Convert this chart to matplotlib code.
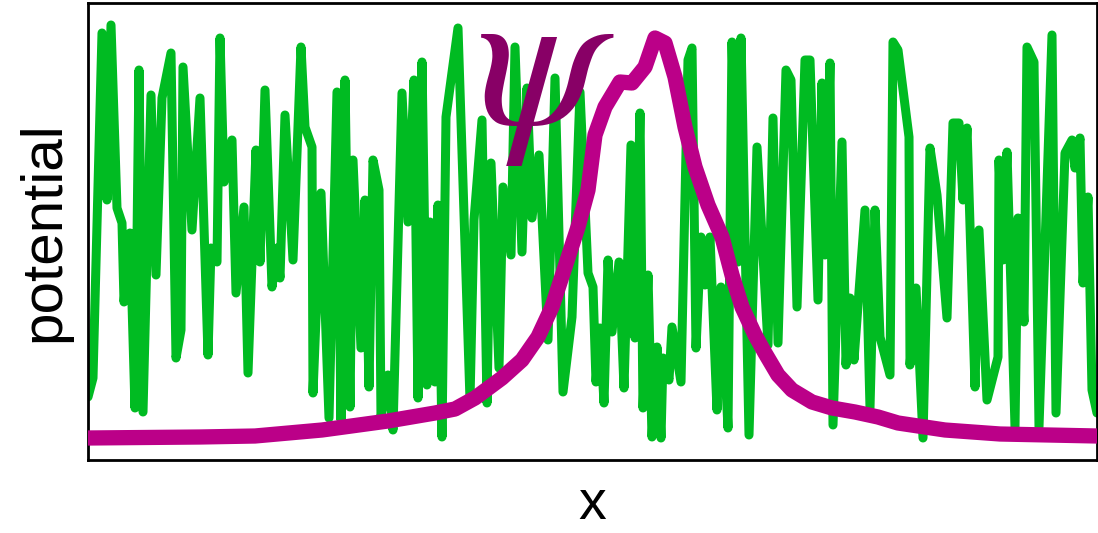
import numpy as np
import matplotlib.pyplot as plt

# random potential: position along x and height
pot_x = [0, 5, 14, 19, 23, 29, 34, 36, 42, 47, 51, 55, 63, 68, 74, 83, 88, 93, 95, 104,
         112, 120, 123, 129, 132, 136, 144, 148, 156, 160, 168, 172, 177, 184, 189, 192, 197, 205, 213, 217,
         224, 225, 233, 241, 249, 253, 257, 262, 265, 273, 277, 281, 285, 291, 293, 300, 305, 314, 320, 326,
         330, 334, 339, 342, 347, 350, 354, 358, 370, 382, 386, 394, 399, 403, 411, 415, 423, 427, 434, 439,
         444, 451, 460, 467, 475, 484, 492, 500, 505, 508, 512, 516, 520, 524, 531, 536, 543, 547, 552, 555,
         560, 564, 569, 573, 575, 581, 584, 593, 600, 604, 608, 613, 617, 622, 629, 633, 640, 644, 650, 653,
         661, 669, 680, 685, 690, 698, 703, 709, 717, 722, 730, 734, 737, 742, 745, 754, 758, 762, 766, 777,
         782, 787, 792, 802, 805, 810, 821, 822, 828, 835, 842, 849, 859, 865, 871, 875, 879, 887, 891, 899,
         910, 911, 915, 919, 927, 930, 936, 939, 946, 951, 964, 968, 977, 984, 987, 992, 995, 1000, 1004, 1009]
pot_v = [63, 82, 427, 260, 435, 252, 237, 158, 227, 52, 390, 48, 365, 185, 362, 407, 102, 130, 393, 230,
         362, 105, 212, 198, 422, 278, 320, 167, 253, 87, 310, 198, 370, 173, 212, 182, 345, 200, 413, 333,
         313, 67, 267, 42, 368, 40, 380, 53, 300, 112, 260, 73, 300, 270, 43, 85, 30, 367, 238, 380,
         62, 398, 75, 238, 78, 255, 23, 343, 432, 60, 240, 340, 57, 297, 92, 273, 205, 413, 208, 372,
         242, 305, 120, 382, 68, 143, 368, 187, 173, 78, 132, 57, 200, 128, 198, 72, 315, 122, 347, 52,
         185, 23, 113, 22, 102, 80, 133, 78, 400, 412, 112, 223, 175, 223, 50, 173, 32, 418, 198, 422,
         25, 313, 115, 342, 117, 390, 380, 153, 400, 400, 160, 377, 205, 397, 35, 318, 95, 162, 100, 250,
         52, 250, 123, 85, 418, 410, 323, 95, 172, 22, 312, 265, 142, 337, 337, 260, 332, 73, 230, 60,
         103, 300, 200, 308, 33, 242, 138, 413, 398, 33, 425, 47, 307, 320, 292, 322, 177, 263, 70, 47]

# localized wavefunction
psi_x = [0, 112, 167, 234, 300, 347, 367, 387, 414, 434, 450, 464, 477, 490, 500, 507, 517, 532, 544,
         557, 567, 577, 587, 597, 607, 620, 634, 644, 654, 667, 677, 690, 704, 724, 744, 767, 790, 810,
         857, 912, 1009]
psi_v = [22, 23, 24, 30, 39, 47, 51, 62, 82, 100, 123, 153, 193, 233, 270, 325, 353, 378, 377,
         393, 422, 417, 383, 333, 293, 255, 223, 185, 153, 125, 107, 85, 70, 58, 52, 48, 43, 37,
         30, 26, 24]

fig = plt.figure(figsize=(10.98, 5.33), dpi=100)
ax = fig.add_axes([88/1098, 73/533, 1009/1098, 457/533])

ax.plot(pot_x, pot_v, color='#00BB22', lw=6.5, solid_joinstyle='round', solid_capstyle='round', zorder=2)
ax.plot(psi_x, psi_v, color='#BB0088', lw=11, solid_joinstyle='round', solid_capstyle='round', zorder=3)
ax.text(458, 390, r'$\psi$', color='#880066', fontsize=146, ha='center', va='center',
        math_fontfamily='stix', zorder=4)

ax.set_xlim(0, 1009)
ax.set_ylim(0, 457)
ax.set_xticks([])
ax.set_yticks([])
for s in ax.spines.values():
    s.set_linewidth(2)
ax.set_xlabel('x', fontsize=40, family='Liberation Sans', labelpad=14)
ax.set_ylabel('potential', fontsize=42, family='Liberation Sans', labelpad=12)

plt.savefig('out.png')
